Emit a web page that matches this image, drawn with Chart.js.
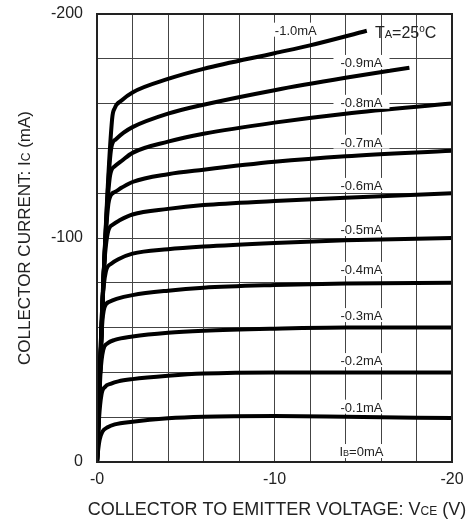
<!DOCTYPE html>
<html>
<head>
<meta charset="utf-8">
<script src="https://cdn.jsdelivr.net/npm/chart.js@4"></script>
<style>
  html, body { margin: 0; padding: 0; background: #fff; }
  #wrap { width: 470px; height: 526px; }
</style>
</head>
<body>
<div id="wrap"><canvas id="chart" width="470" height="526"></canvas></div>
<script>
// Ic-Vce output curves (V, mA), one list per base current
const ib01 = [[0,0],[-0.06,-5],[-0.15,-10],[-0.3,-13.5],[-0.6,-15.5],[-1,-16.8],[-2,-18],[-4,-19.5],[-6,-20.2],[-10,-20.5],[-14,-20.2],[-20,-19.6]];
const ib02 = [[0,0],[-0.12,-20],[-0.25,-30],[-0.45,-33.5],[-0.8,-35],[-1.2,-36],[-2,-37],[-4,-38.5],[-6,-39.5],[-10,-40],[-14,-40],[-20,-40]];
const ib03 = [[0,0],[-0.2,-40],[-0.35,-50],[-0.6,-53],[-1,-54.5],[-2,-56],[-4,-57.7],[-6,-58.6],[-10,-59.5],[-14,-60],[-20,-60]];
const ib04 = [[0,0],[-0.28,-60],[-0.42,-69],[-0.7,-71.5],[-1.1,-72.8],[-2,-74.5],[-4,-76.5],[-6,-77.8],[-10,-79],[-14,-79.7],[-20,-80]];
const ib05 = [[0,0],[-0.3,-70],[-0.5,-85],[-0.8,-88.5],[-1.2,-90.5],[-2,-93],[-4,-95],[-6,-96.2],[-10,-97.8],[-14,-99],[-20,-100]];
const ib06 = [[0,0],[-0.35,-80],[-0.6,-102],[-0.9,-106],[-1.3,-108],[-2,-110.5],[-4,-113],[-6,-114.7],[-10,-116.5],[-14,-118],[-20,-120]];
const ib07 = [[0,0],[-0.36,-81],[-0.68,-117],[-1,-120.5],[-1.4,-122.5],[-2,-125],[-4,-128.5],[-6,-130.5],[-10,-134],[-14,-136.5],[-20,-139]];
const ib08 = [[0,0],[-0.36,-81],[-0.74,-128],[-1,-132],[-1.4,-134.5],[-2,-138],[-4,-143],[-6,-146.5],[-10,-151.5],[-14,-155.5],[-20,-160]];
const ib09 = [[0,0],[-0.36,-81],[-0.8,-140],[-1.05,-144],[-1.5,-147],[-2,-149.5],[-4,-155.5],[-6,-159.5],[-10,-166],[-14,-171.5],[-17.6,-176]];
const ib10 = [[0,0],[-0.36,-81],[-0.85,-153],[-1,-158],[-1.4,-161.5],[-2,-165],[-4,-171],[-6,-175.5],[-10,-182.5],[-12,-186],[-15.2,-192.5]];

const curves = [ib01, ib02, ib03, ib04, ib05, ib06, ib07, ib08, ib09, ib10];

// curve labels and where they sit (data units)
const curveLabels = ["IB=0mA", "-0.1mA", "-0.2mA", "-0.3mA", "-0.4mA", "-0.5mA", "-0.6mA", "-0.7mA", "-0.8mA", "-0.9mA", "-1.0mA"];
const labelVce = [-14.9, -14.9, -14.9, -14.9, -14.9, -14.9, -14.9, -14.9, -14.9, -14.9, -11.2];
const labelIc = [-4.9, -24.7, -45.5, -65.6, -86.2, -104, -123.7, -143, -160.8, -178.6, -193];

const xTicks = [0, -10, -20];
const yTicks = [0, -100, -200];

const FONT = '"Liberation Sans", Arial, Helvetica, sans-serif';

// draws text made of runs with different sizes (for subscripts like I_B, V_CE)
function drawRuns(ctx, runs, x, y, align) {
  let total = 0;
  runs.forEach(r => { ctx.font = r.size + 'px ' + FONT; r.w = ctx.measureText(r.t).width; total += r.w; });
  let cx = align === 'center' ? x - total / 2 : x;
  ctx.textAlign = 'left';
  ctx.textBaseline = 'alphabetic';
  runs.forEach(r => {
    ctx.font = r.size + 'px ' + FONT;
    ctx.fillText(r.t, cx, y + (r.dy || 0));
    cx += r.w;
  });
}

const decor = {
  id: 'decor',
  beforeDraw(chart) {
    const ctx = chart.ctx;
    ctx.save();
    ctx.fillStyle = '#fff';
    ctx.fillRect(0, 0, chart.width, chart.height);
    ctx.restore();
  },
  afterDatasetsDraw(chart) {
    const { ctx, chartArea: a, scales: { x, y } } = chart;
    ctx.save();
    // frame
    ctx.strokeStyle = '#222';
    ctx.lineWidth = 2;
    ctx.strokeRect(a.left, a.top, a.right - a.left, a.bottom - a.top);

    // curve labels on white boxes
    curveLabels.forEach((txt, i) => {
      const px = x.getPixelForValue(labelVce[i]);
      const py = y.getPixelForValue(labelIc[i]);
      ctx.fillStyle = '#fff';
      ctx.fillRect(px - 28, py - 7, 56, 14);
      ctx.fillStyle = '#222';
      if (txt.startsWith('IB')) {
        drawRuns(ctx, [{ t: 'I', size: 13 }, { t: 'B', size: 9 }, { t: '=0mA', size: 13 }], px, py + 5, 'center');
      } else {
        drawRuns(ctx, [{ t: txt, size: 13 }], px, py + 5, 'center');
      }
    });

    // ambient temperature note
    drawRuns(ctx, [
      { t: 'T', size: 16 }, { t: 'A', size: 11 }, { t: '=25', size: 16 },
      { t: 'o', size: 10, dy: -6 }, { t: 'C', size: 16 }
    ], 375, 38, 'left');
    ctx.restore();
  },
  afterDraw(chart) {
    const { ctx, chartArea: a } = chart;
    ctx.save();
    ctx.fillStyle = '#222';
    drawRuns(ctx, [
      { t: 'COLLECTOR TO EMITTER VOLTAGE: V', size: 18 }, { t: 'CE', size: 12 }, { t: ' (V)', size: 18 }
    ], 277, 515, 'center');
    ctx.translate(30, (a.top + a.bottom) / 2);
    ctx.rotate(-Math.PI / 2);
    drawRuns(ctx, [
      { t: 'COLLECTOR CURRENT: I', size: 17 }, { t: 'C', size: 12 }, { t: ' (mA)', size: 17 }
    ], 0, 0, 'center');
    ctx.restore();
  }
};

new Chart(document.getElementById('chart'), {
  type: 'line',
  data: {
    datasets: curves.map(c => ({
      data: c.map(p => ({ x: p[0], y: p[1] })),
      borderColor: '#000',
      borderWidth: 4,
      pointRadius: 0,
      fill: false,
      cubicInterpolationMode: 'monotone'
    }))
  },
  options: {
    responsive: false,
    animation: false,
    events: [],
    layout: { padding: { top: 14, right: 18, left: 0, bottom: 0 } },
    plugins: { legend: { display: false }, tooltip: { enabled: false } },
    scales: {
      x: {
        type: 'linear',
        min: -20, max: 0, reverse: true,
        afterFit(s) { s.height = 64; s.paddingLeft = 0; s.paddingRight = 0; },
        grid: { color: '#444', lineWidth: 1, drawTicks: false },
        border: { display: false },
        ticks: {
          stepSize: 2, autoSkip: false, maxRotation: 0, padding: 8,
          color: '#222', font: { family: FONT, size: 16 },
          callback: v => xTicks.includes(v) ? (v === 0 ? '-0' : String(v)) : ''
        }
      },
      y: {
        type: 'linear',
        min: -200, max: 0, reverse: true,
        afterFit(s) { s.width = 97; s.paddingTop = 0; s.paddingBottom = 0; },
        grid: { color: '#444', lineWidth: 1, drawTicks: false },
        border: { display: false },
        ticks: {
          stepSize: 20, autoSkip: false, padding: 14,
          color: '#222', font: { family: FONT, size: 16 },
          callback: v => yTicks.includes(v) ? String(v) : ''
        }
      }
    }
  },
  plugins: [decor]
});
</script>
</body>
</html>
